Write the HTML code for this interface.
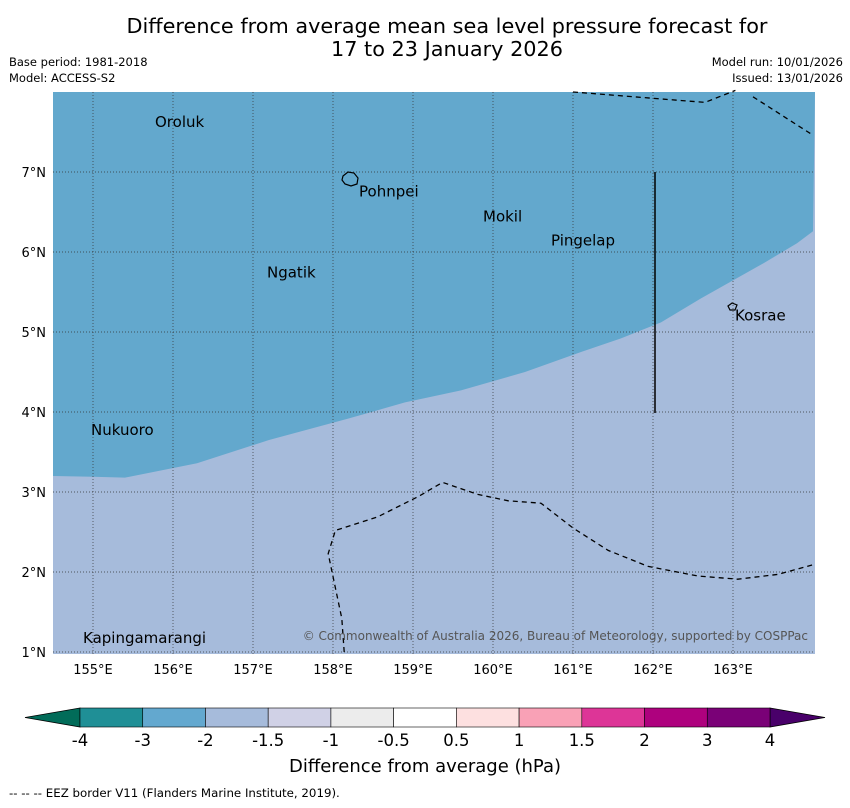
<!DOCTYPE html>
<html><head><meta charset="utf-8"><style>
body{margin:0;background:#fff;font-family:"DejaVu Sans","Liberation Sans",sans-serif}
svg text{font-family:"DejaVu Sans","Liberation Sans",sans-serif}
</style></head><body>
<svg id="c" width="850" height="804" viewBox="0 0 850 804">
<text x="447" y="33" font-size="20.8" text-anchor="middle">Difference from average mean sea level pressure forecast for</text>
<text x="447" y="56" font-size="20.8" text-anchor="middle">17 to 23 January 2026</text>
<text x="9" y="66" font-size="11.5">Base period: 1981-2018</text>
<text x="9" y="82" font-size="11.5">Model: ACCESS-S2</text>
<text x="843" y="66" font-size="11.5" text-anchor="end">Model run: 10/01/2026</text>
<text x="843" y="82" font-size="11.5" text-anchor="end">Issued: 13/01/2026</text>
<g id="map"></g>
<g id="cbar"></g>
<text x="425" y="772" font-size="18" text-anchor="middle">Difference from average (hPa)</text>
<text x="9" y="797" font-size="11.8">--  --  -- EEZ border V11 (Flanders Marine Institute, 2019).</text>
</svg>
<script>
const lonTicks=[155,156,157,158,159,160,161,162,163];
const latTicks=[1,2,3,4,5,6,7];
const boundaryLon=[154.5,155,155.4,156.3,157.2,158.2,158.9,159.6,160.4,161.1,161.6,162.1,162.6,163.4,163.8,164];
const boundaryLat=[3.2,3.19,3.18,3.36,3.65,3.92,4.12,4.27,4.5,4.75,4.92,5.12,5.42,5.87,6.11,6.26];
const places=["Oroluk","Pohnpei","Mokil","Pingelap","Ngatik","Kosrae","Nukuoro","Kapingamarangi"];
const placeLon=[155.75,158.3,159.85,160.7,157.15,163.0,154.95,154.85];
const placeLat=[7.7,6.83,6.52,6.22,5.82,5.28,3.85,1.25];
const eezTopLon=[161.0,162.65,163.03];const eezTopLat=[8,7.87,8.02];
const eezTop2Lon=[163.25,164];const eezTop2Lat=[7.94,7.46];
const eezBotLon=[158.14,158.11,157.94,158.03,158.56,159.06,159.37,159.81,160.19,160.6,161.0,161.44,161.94,162.56,163.06,163.56,164];
const eezBotLat=[1,1.42,2.23,2.52,2.69,2.94,3.12,2.97,2.89,2.86,2.55,2.27,2.07,1.95,1.91,1.97,2.09];
const cbLabels=["-4","-3","-2","-1.5","-1","-0.5","0.5","1","1.5","2","3","4"];
const cbColors=["#1f8f96","#63a8cf","#a6bbdb","#d0d1e6","#ececec","#ffffff","#fde0e0","#f9a1b6","#dd3597","#ae017e","#7a0177"];
const X=l=>53+(l-154.5)*80, Y=l=>92+(8-l)*80;
const NS="http://www.w3.org/2000/svg";
function mk(t,a,p){const e=document.createElementNS(NS,t);for(const k in a)e.setAttribute(k,a[k]);p.appendChild(e);return e;}
const m=document.getElementById('map');
let r=mk('rect',{x:53,y:92,width:762,height:562,fill:'#a6bbdb'},m);


let d='M53,92 ';boundaryLon.forEach((l,i)=>d+='L'+X(l)+','+Y(boundaryLat[i])+' ');d+='L815,92Z';
let p=mk('path',{d:d,fill:'#63a8cd'},m);


lonTicks.forEach(l=>{const g=mk('line',{x1:X(l),x2:X(l),y1:92,y2:654,stroke:'#333','stroke-width':0.7,'stroke-dasharray':'1,2'},m);


const t=mk('text',{x:X(l),y:674,'font-size':13,'text-anchor':'middle'},m);t.textContent=l+'°E';

});
latTicks.forEach(l=>{const g=mk('line',{x1:53,x2:815,y1:Y(l),y2:Y(l),stroke:'#333','stroke-width':0.7,'stroke-dasharray':'1,2'},m);


const t=mk('text',{x:46,y:Y(l)+5,'font-size':13,'text-anchor':'end'},m);t.textContent=l+'°N';

});
function line(lo,la,name){let s='';lo.forEach((l,i)=>s+=(i?'L':'M')+X(l)+','+Y(la[i]));const e=mk('path',{d:s,fill:'none',stroke:'#000','stroke-width':1.3,'stroke-dasharray':'5,4'},m);

}
line(eezTopLon,eezTopLat,'eez-border-north');line(eezTop2Lon,eezTop2Lat,'eez-border-northeast');line(eezBotLon,eezBotLat,'eez-border-south');
let v=mk('line',{x1:655,x2:655,y1:172,y2:413,stroke:'#000','stroke-width':1.5},m);


let isl=mk('path',{d:'M343,176 l5,-4 l6,1 l4,5 l-1,6 l-6,2 l-6,-2 l-3,-4z M728,306 l4,-3 l5,2 l-2,5 l-5,0z',fill:'none',stroke:'#000','stroke-width':1.2},m);


places.forEach((n,i)=>{const t=mk('text',{x:X(placeLon[i])+2,y:Y(placeLat[i])+11,'font-size':15},m);t.textContent=n;

});
let cp=mk('text',{x:808,y:640,'font-size':12,'text-anchor':'end',fill:'#555'},m);cp.textContent='© Commonwealth of Australia 2026, Bureau of Meteorology, supported by COSPPac';


const cb=document.getElementById('cbar');const w=690/cbColors.length;
let lt=mk('path',{d:'M80,708 L25,717.5 L80,727Z',fill:'#016c59',stroke:'#000','stroke-width':0.8},cb);


let rt=mk('path',{d:'M770,708 L825,717.5 L770,727Z',fill:'#49006a',stroke:'#000','stroke-width':0.8},cb);


cbColors.forEach((c,i)=>{const s=mk('rect',{x:80+i*w,y:708,width:w,height:19,fill:c,stroke:'#000','stroke-width':0.6},cb);

});
cbLabels.forEach((l,i)=>{const t=mk('text',{x:80+i*w,y:746,'font-size':16.5,'text-anchor':'middle'},cb);t.textContent=l;

});
</script>
</body></html>
